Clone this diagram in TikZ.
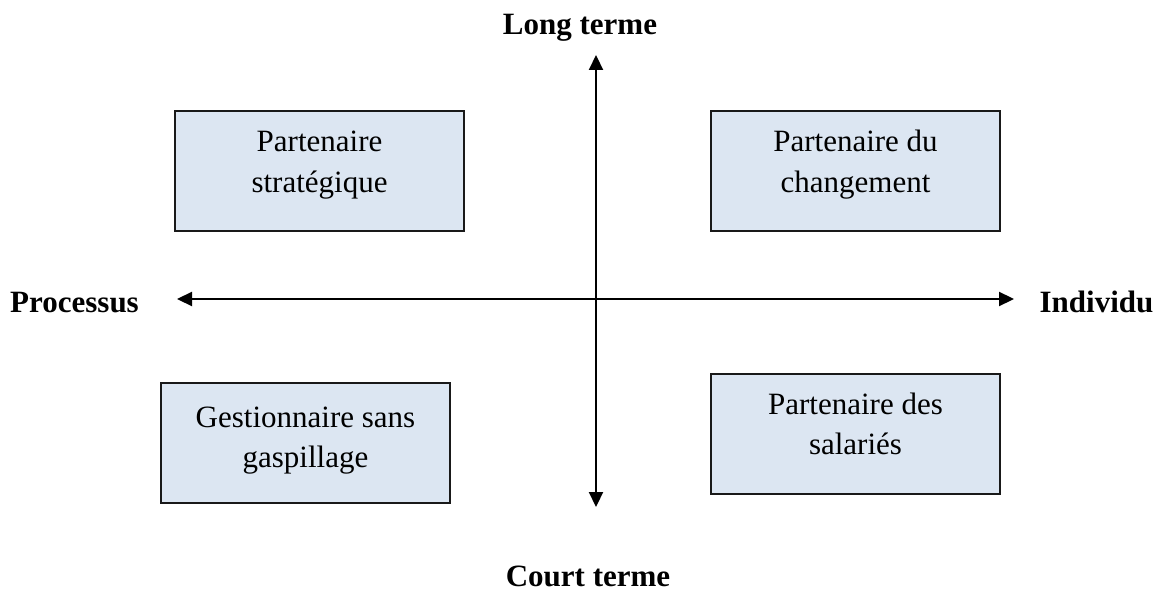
\documentclass[tikz,border=0pt]{standalone}
\usepackage{fontspec}
\setmainfont{Liberation Serif}
\usetikzlibrary{arrows.meta,calc}
\definecolor{boxfill}{HTML}{DCE6F2}
\begin{document}
\begin{tikzpicture}[x=1pt,y=-1pt,
  qbox/.style={draw=black!90, line width=2pt, fill=boxfill, minimum width=289pt, minimum height=120pt, inner sep=0pt},
  ltxt/.style={font=\fontsize{31}{40}\selectfont, anchor=base, inner sep=0pt},
  axlabel/.style={font=\fontsize{31}{40}\selectfont\bfseries, anchor=base, inner sep=0pt},
  axis/.style={line width=2.2pt, {Triangle[length=15pt,width=14pt]}-{Triangle[length=15pt,width=14pt]}}]
\useasboundingbox (0,0) rectangle (1162,591);
% axes
\coordinate (top) at (596,55);
\coordinate (bot) at (596,507);
\coordinate (lft) at (177,299);
\coordinate (rgt) at (1014,299);
\draw[axis] (bot) -- (top);
\draw[axis] (lft) -- (rgt);
% axis labels
\node[axlabel] (lt) at (580,35) {Long terme};
\node[axlabel] (ct) at (588,586) {Court terme};
\node[axlabel] (pr) at (74.5,312) {Processus};
\node[axlabel] (in) at (1096.5,312) {Individu};
% boxes
\node[qbox] (strat) at (319.5,171) {};
\node[qbox] (chg) at (855.5,171) {};
\node[qbox] (gest) at (305.5,442.5) {};
\node[qbox] (sal) at (855.5,433.5) {};
\node[ltxt] (strat1) at ($(strat.north)+(0,42)$) {Partenaire};
\node[ltxt] (strat2) at ($(strat.north)+(0,82)$) {stratégique};
\node[ltxt] (chg1) at ($(chg.north)+(0,42)$) {Partenaire du};
\node[ltxt] (chg2) at ($(chg.north)+(0,82)$) {changement};
\node[ltxt] (gest1) at ($(gest.north)+(0,46)$) {Gestionnaire sans};
\node[ltxt] (gest2) at ($(gest.north)+(0,86)$) {gaspillage};
\node[ltxt] (sal1) at ($(sal.north)+(0,42)$) {Partenaire des};
\node[ltxt] (sal2) at ($(sal.north)+(0,82)$) {salariés};
\end{tikzpicture}
\end{document}
